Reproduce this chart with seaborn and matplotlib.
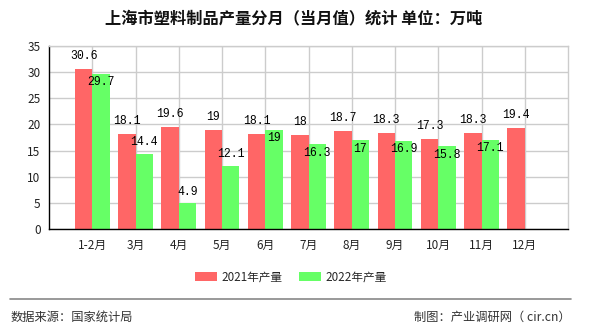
import matplotlib
matplotlib.use("Agg")
import matplotlib.pyplot as plt
from matplotlib.lines import Line2D
from matplotlib.patches import Patch
import numpy as np
import pandas as pd
import seaborn as sns

months = ["1-2月", "3月", "4月", "5月", "6月", "7月", "8月", "9月", "10月", "11月", "12月"]
output_2021 = [30.6, 18.1, 19.6, 19, 18.1, 18, 18.7, 18.3, 17.3, 18.3, 19.4]
output_2022 = [29.7, 14.4, 4.9, 12.1, 19, 16.3, 17, 16.9, 15.8, 17.1, np.nan]
series_names = ["2021年产量", "2022年产量"]
y_ticks = [0, 5, 10, 15, 20, 25, 30, 35]

RED = "#FF6666"
GREEN = "#66FF66"

sns.set_theme(style="white")
plt.rcParams["font.family"] = ["Noto Sans CJK SC", "DejaVu Sans"]
plt.rcParams["axes.unicode_minus"] = False

df = pd.DataFrame({
    "月份": months * 2,
    "产量": output_2021 + output_2022,
    "年份": [series_names[0]] * len(months) + [series_names[1]] * len(months),
})

fig = plt.figure(figsize=(5.9, 3.3), dpi=100)
ax = fig.add_axes([49 / 590, 1 - 229 / 330, (568 - 49) / 590, (229 - 46) / 330])

sns.barplot(data=df, x="月份", y="产量", hue="年份", order=months,
            hue_order=series_names, palette=[RED, GREEN], width=0.8,
            gap=0, saturation=1, errorbar=None, legend=False, ax=ax,
            linewidth=0)

ax.set_xlim(-1, len(months))
ax.set_ylim(0, 35)
ax.set_yticks(y_ticks)
ax.set_xticks(range(len(months)))
ax.set_xticklabels(months)
ax.set_xticks([-1, len(months)], minor=True)
ax.set_xlabel("")
ax.set_ylabel("")

ax.grid(True, axis="both", color="#CCCCCC", linewidth=1)
ax.set_axisbelow(True)
for side in ["top", "right"]:
    ax.spines[side].set_color("#CCCCCC")
    ax.spines[side].set_linewidth(1)
for side in ["left", "bottom"]:
    ax.spines[side].set_color("black")
    ax.spines[side].set_linewidth(1)

ax.tick_params(axis="both", which="both", direction="out", length=4, width=1,
               color="black", labelsize=8.5, labelcolor="#222222", pad=2)
ax.tick_params(axis="x", pad=3)

# value labels
label_font = dict(fontsize=8.3, color="black", ha="center",
                  family=["Liberation Mono", "DejaVu Sans Mono"])
red_bars = ax.containers[0]
green_bars = ax.containers[1]
for i, bar in enumerate(red_bars):
    v = output_2021[i]
    cx = bar.get_x() + bar.get_width() / 2
    ax.annotate(f"{v:g}", (cx, v), xytext=(0, 5), textcoords="offset points",
                va="bottom", **label_font)
for i, bar in enumerate(green_bars):
    v = output_2022[i]
    if np.isnan(v):
        continue
    cx = bar.get_x() + bar.get_width() / 2
    if output_2021[i] - v > 3:
        ax.annotate(f"{v:g}", (cx, v), xytext=(0, 4), textcoords="offset points",
                    va="bottom", **label_font)
    else:
        ax.annotate(f"{v:g}", (cx, v), xytext=(0, -2), textcoords="offset points",
                    va="top", **label_font)

fig.text(293.5 / 590, 1 - 18 / 330, "上海市塑料制品产量分月（当月值）统计 单位：万吨",
         ha="center", va="center", fontsize=11.7, fontweight="bold", color="#111111")

handles = [Patch(facecolor=RED, edgecolor="none"), Patch(facecolor=GREEN, edgecolor="none")]
fig.legend(handles, series_names, loc="center", bbox_to_anchor=(291 / 590, 1 - 277 / 330),
           ncol=2, frameon=False, fontsize=8.4, handlelength=1.86, handleheight=0.76,
           columnspacing=1.36, handletextpad=0.42, borderpad=0, borderaxespad=0)

fig.add_artist(Line2D([10 / 590, 571 / 590], [1 - 298.5 / 330, 1 - 298.5 / 330],
                      color="#888888", linewidth=1.2, transform=fig.transFigure))
fig.text(11 / 590, 1 - 317 / 330, "数据来源：国家统计局", ha="left", va="center",
         fontsize=8.8, color="#333333")
fig.text(571 / 590, 1 - 317 / 330, "制图：产业调研网（ cir.cn）", ha="right", va="center",
         fontsize=8.8, color="#333333")

fig.savefig("out.png", dpi=100)
